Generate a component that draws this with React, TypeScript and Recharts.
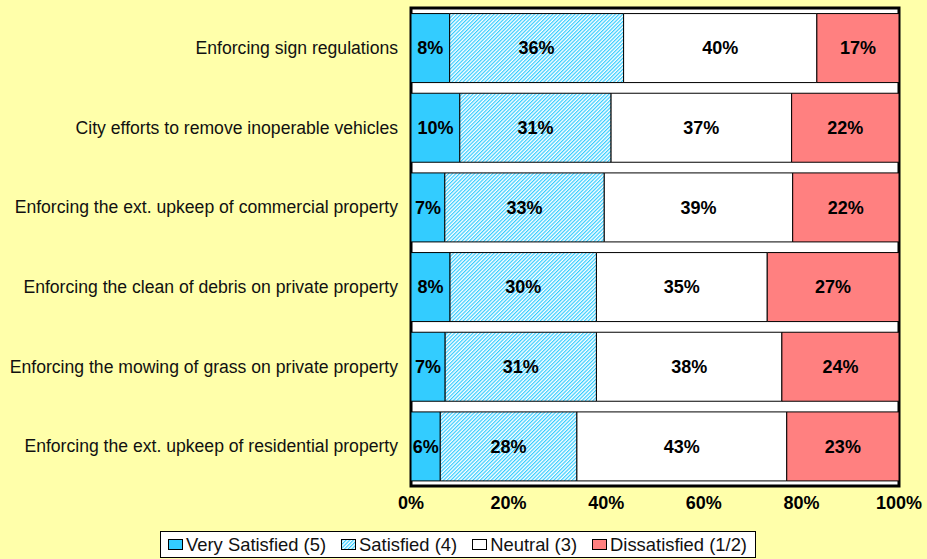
import { Bar, BarChart, LabelList, Legend, ReferenceArea, XAxis, YAxis } from "recharts";

// 満足度の内訳（横帯の100%積み上げ）
const categories = [
  "Enforcing sign regulations",
  "City efforts to remove inoperable vehicles",
  "Enforcing the ext. upkeep of commercial property",
  "Enforcing the clean of debris on private property",
  "Enforcing the mowing of grass on private property",
  "Enforcing the ext. upkeep of residential property",
];
const verySatisfied = [8, 10, 7, 8, 7, 6];
const satisfied = [36, 31, 33, 30, 31, 28];
const neutral = [40, 37, 39, 35, 38, 43];
const dissatisfied = [17, 22, 22, 27, 24, 23];
const xTicks = [0, 0.2, 0.4, 0.6, 0.8, 1];

const BG = "#FFFFAA";
const BLUE = "#33CCFF";
const RED = "#FF8080";
const FONT = "Arial, 'Liberation Sans', sans-serif";

const data = categories.map((name, i) => ({
  name,
  vs: verySatisfied[i],
  s: satisfied[i],
  n: neutral[i],
  d: dissatisfied[i],
}));

const legendItems = [
  { label: "Very Satisfied (5)", fill: BLUE },
  { label: "Satisfied (4)", fill: "url(#hatchBlue)" },
  { label: "Neutral (3)", fill: "#FFFFFF" },
  { label: "Dissatisfied (1/2)", fill: RED },
];

function LegendBox() {
  return (
    <div
      style={{
        display: "flex",
        alignItems: "center",
        boxSizing: "border-box",
        height: 27,
        border: "1px solid #000",
        background: "#fff",
        padding: "0 8px 0 6px",
        fontFamily: FONT,
        fontSize: 18.4,
        color: "#111",
        whiteSpace: "nowrap",
      }}
    >
      {legendItems.map((it, i) => (
        <span key={it.label} style={{ display: "flex", alignItems: "center", marginRight: i < 3 ? 14 : 0 }}>
          <svg width={17} height={13} style={{ marginRight: 2 }}>
            <rect x={1.5} y={1.5} width={14} height={10} fill={it.fill} stroke="#000" />
          </svg>
          {it.label}
        </span>
      ))}
    </div>
  );
}

const pct = (v: any) => `${v}%`;
const labelStyle = { fontFamily: FONT, fontSize: 18, fontWeight: 700, fill: "#000" };

export default function App() {
  return (
    <div style={{ position: "absolute", left: 0, top: 0, width: 927, height: 559, background: BG }}>
      <svg width={0} height={0} style={{ position: "absolute" }}>
        <defs>
          <pattern
            id="hatchBlue"
            width={2.6}
            height={2.6}
            patternUnits="userSpaceOnUse"
            patternTransform="rotate(45)"
          >
            <rect width={2.6} height={2.6} fill="#fff" />
            <line x1={0.6} y1={0} x2={0.6} y2={2.6} stroke={BLUE} strokeWidth={1.2} />
          </pattern>
        </defs>
      </svg>
      <BarChart
        width={927}
        height={559}
        data={data}
        layout="vertical"
        stackOffset="expand"
        barCategoryGap="7%"
        margin={{ top: 8, right: 28, bottom: 16, left: 0 }}
      >
        <ReferenceArea x1={0} x2={1} fill="#fff" fillOpacity={1} stroke="none" ifOverflow="visible" />
        <XAxis
          type="number"
          domain={[0, 1]}
          ticks={xTicks}
          tickFormatter={(v) => `${Math.round(v * 100)}%`}
          axisLine={false}
          tickLine={false}
          tickSize={0}
          tickMargin={10}
          height={30}
          tick={{ fontFamily: FONT, fontSize: 18, fontWeight: 700, fill: "#000" }}
        />
        <YAxis
          type="category"
          dataKey="name"
          width={411}
          axisLine={false}
          tickLine={false}
          tickSize={0}
          tickMargin={13}
          interval={0}
          tick={{ fontFamily: FONT, fontSize: 17.6, fill: "#111" }}
        />
        <Legend
          verticalAlign="bottom"
          content={() => <LegendBox />}
          wrapperStyle={{ position: "absolute", top: 531, left: 160, width: "auto", height: 27 }}
        />
        <Bar dataKey="vs" stackId="a" fill={BLUE} stroke="#000" strokeWidth={1} isAnimationActive={false}>
          <LabelList dataKey="vs" position="center" formatter={pct} style={labelStyle} />
        </Bar>
        <Bar dataKey="s" stackId="a" fill="url(#hatchBlue)" stroke="#000" strokeWidth={1} isAnimationActive={false}>
          <LabelList dataKey="s" position="center" formatter={pct} style={labelStyle} />
        </Bar>
        <Bar dataKey="n" stackId="a" fill="#fff" stroke="#000" strokeWidth={1} isAnimationActive={false}>
          <LabelList dataKey="n" position="center" formatter={pct} style={labelStyle} />
        </Bar>
        <Bar dataKey="d" stackId="a" fill={RED} stroke="#000" strokeWidth={1} isAnimationActive={false}>
          <LabelList dataKey="d" position="center" formatter={pct} style={labelStyle} />
        </Bar>
        <ReferenceArea x1={0} x2={1} fill="none" stroke="#000" strokeWidth={3} ifOverflow="visible" />
      </BarChart>
    </div>
  );
}
